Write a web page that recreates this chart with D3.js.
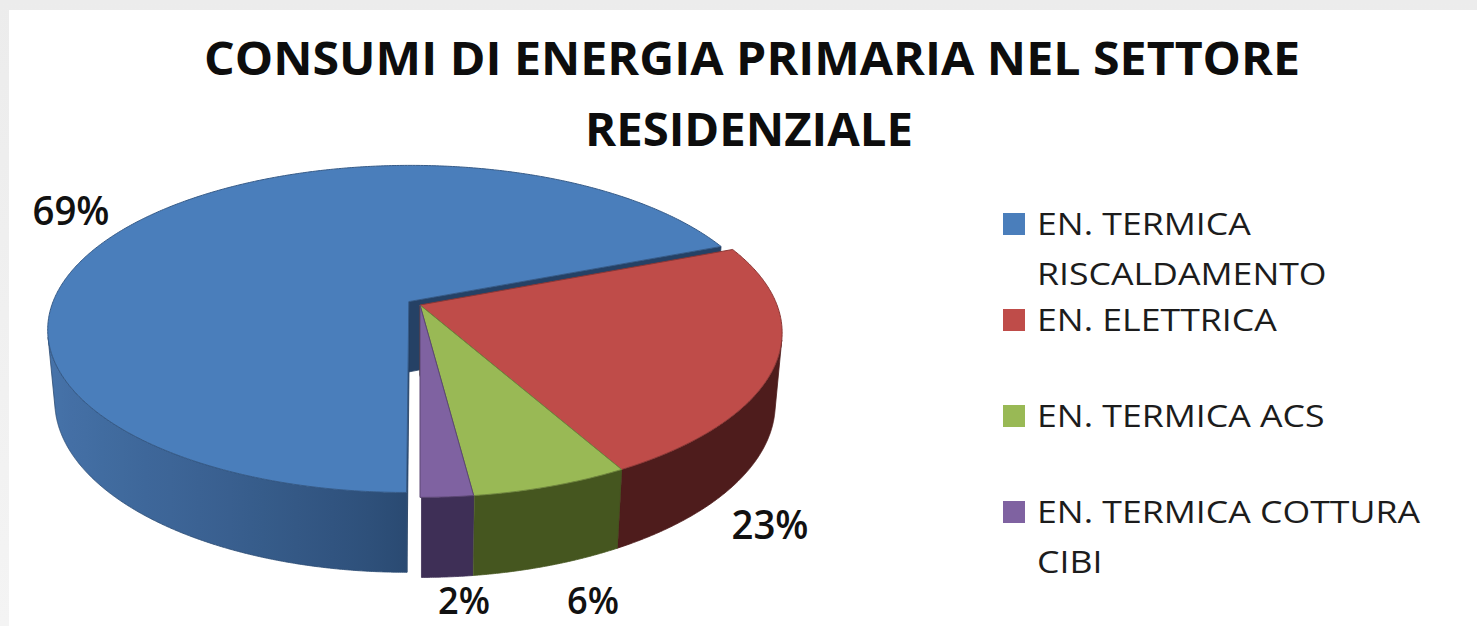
<!DOCTYPE html>
<html>
<head>
<meta charset="utf-8">
<script src="https://cdn.jsdelivr.net/npm/d3@7"></script>
<style>
html, body { margin: 0; padding: 0; background: #efefef; }
svg { display: block; }
</style>
</head>
<body>
<svg id="chart" width="1477" height="626"></svg>
<script>
// data
const categories = ["EN. TERMICA RISCALDAMENTO", "EN. ELETTRICA", "EN. TERMICA ACS", "EN. TERMICA COTTURA CIBI"];
const legendLines = [["EN. TERMICA", "RISCALDAMENTO"], ["EN. ELETTRICA"], ["EN. TERMICA ACS"], ["EN. TERMICA COTTURA", "CIBI"]];
const values = [69, 23, 6, 2];
const percentLabels = ["69%", "23%", "6%", "2%"];
const titleLines = ["CONSUMI DI ENERGIA PRIMARIA NEL SETTORE", "RESIDENZIALE"];

const topColors = ["#4a7ebb", "#bf4c49", "#99b955", "#7f62a1"];
const sideDark = ["#2a4a72", "#4e1c1c", "#45561f", "#3e2f56"];
const sideLight = ["#4774ab", "#5a2222", "#4d6024", "#483764"];
const explode = [0.038, 0, 0, 0];

// layout of the labels (center x, baseline)
const labelPos = [[71, 225], [770, 539], [593, 614], [464, 614]];

const svg = d3.select("#chart");
const defs = svg.append("defs");

// page background + card
const bg = defs.append("linearGradient").attr("id", "bg").attr("x1", 0).attr("y1", 0).attr("x2", 0).attr("y2", 1);
bg.append("stop").attr("offset", 0).attr("stop-color", "#ececec");
bg.append("stop").attr("offset", 1).attr("stop-color", "#f4f4f4");
svg.append("rect").attr("width", 1477).attr("height", 626).attr("fill", "url(#bg)");
svg.append("rect").attr("x", 9).attr("y", 10).attr("width", 1468).attr("height", 616).attr("fill", "#fff");

// title
svg.selectAll(".title").data(titleLines).join("text")
    .attr("class", "title")
    .attr("x", (d, i) => i == 0 ? 752 : 749)
    .attr("y", (d, i) => i == 0 ? 75 : 146)
    .attr("text-anchor", "middle")
    .attr("font-family", "'Open Sans', sans-serif")
    .attr("font-weight", 700)
    .attr("font-size", 46)
    .attr("fill", "#0d0d0d")
    .attr("textLength", (d, i) => i == 0 ? 1096 : 328)
    .attr("lengthAdjust", "spacingAndGlyphs")
    .text(d => d);

// 3d projection of the pie
const cx = 420, cy = 305, K = 357, D = 5.33, H = 0.225;
const tilt = Math.asin(0.4485);
const sa = Math.sin(tilt), ca = Math.cos(tilt);
const cam = [0, D * ca, D * sa];

function proj(u, v, w) {
    const Z = D - v * ca - w * sa;
    const Y = v * sa - w * ca;
    return [cx + K * D * u / Z, cy + K * D * Y / Z];
}
function depth(u, v, w) { return D - v * ca - w * sa; }

const arcs = d3.pie().sort(null).startAngle(Math.PI).endAngle(3 * Math.PI)(values);
const line = d3.line();

const slices = arcs.map(function (a, i) {
    const mid = (a.startAngle + a.endAngle) / 2;
    return {
        i: i, a0: a.startAngle, a1: a.endAngle,
        ou: explode[i] * Math.sin(mid), ov: -explode[i] * Math.cos(mid)
    };
});

function rim(s, a, w) { return proj(s.ou + Math.sin(a), s.ov - Math.cos(a), w); }
function apex(s, w) { return proj(s.ou, s.ov, w); }

const walls = [];
const step = Math.PI / 720;

slices.forEach(function (s) {
    // outer wall, only where it faces the camera
    const vis = [];
    for (let a = s.a0; a <= s.a1 + 1e-9; a += step) {
        const aa = Math.min(a, s.a1);
        const px = s.ou + Math.sin(aa), py = s.ov - Math.cos(aa);
        const dot = Math.sin(aa) * (cam[0] - px) - Math.cos(aa) * (cam[1] - py);
        if (dot > 0) vis.push(aa);
    }
    if (vis.length > 1) {
        const topPts = vis.map(a => rim(s, a, 0));
        const botPts = vis.map(a => rim(s, a, -H)).reverse();
        const xs = topPts.map(p => p[0]);
        const gid = "side" + s.i;
        const x0 = d3.min(xs), x1 = d3.max(xs);
        const g = defs.append("linearGradient").attr("id", gid)
            .attr("gradientUnits", "userSpaceOnUse")
            .attr("x1", x0).attr("y1", 0).attr("x2", x1).attr("y2", 0);
        const shade = d3.interpolateRgb(sideDark[s.i], sideLight[s.i]);
        const stops = vis.filter((a, k) => k % 20 == 0 || k == vis.length - 1)
            .map(a => ({ off: (rim(s, a, 0)[0] - x0) / Math.max(1, x1 - x0), t: Math.max(0, -Math.sin(a)) }))
            .sort((p, q) => p.off - q.off);
        g.selectAll("stop").data(stops).join("stop")
            .attr("offset", d => d.off)
            .attr("stop-color", d => shade(Math.pow(d.t, 0.8)));
        const am = vis[Math.floor(vis.length / 2)];
        walls.push({
            pts: topPts.concat(botPts), fill: "url(#" + gid + ")", stroke: sideDark[s.i],
            z: depth(s.ou + Math.sin(am), s.ov - Math.cos(am), -H / 2)
        });
    }
    // radial walls
    [[s.a0, -1], [s.a1, 1]].forEach(function (e) {
        const phi = e[0], sg = e[1];
        const nx = sg * Math.cos(phi), ny = sg * Math.sin(phi);
        const mx = s.ou + Math.sin(phi) / 2, my = s.ov - Math.cos(phi) / 2;
        const dot = nx * (cam[0] - mx) + ny * (cam[1] - my);
        if (dot <= 0.02) return;
        walls.push({
            pts: [apex(s, 0), rim(s, phi, 0), rim(s, phi, -H), apex(s, -H)],
            fill: d3.color(sideDark[s.i]).darker(0.35).formatHex(),
            stroke: d3.color(sideDark[s.i]).darker(0.5).formatHex(),
            z: depth(mx, my, -H / 2)
        });
    });
});

walls.sort((p, q) => q.z - p.z);

const pie = svg.append("g");
pie.selectAll(".wall").data(walls).join("path")
    .attr("class", "wall")
    .attr("d", d => line(d.pts) + "Z")
    .attr("fill", d => d.fill)
    .attr("stroke", d => d.stroke)
    .attr("stroke-width", 0.8)
    .attr("stroke-linejoin", "round");

pie.selectAll(".top").data(slices).join("path")
    .attr("class", "top")
    .attr("d", function (s) {
        const n = Math.max(2, Math.ceil((s.a1 - s.a0) / (Math.PI / 360)));
        const pts = [apex(s, 0)].concat(d3.range(n + 1).map(k => rim(s, s.a0 + (s.a1 - s.a0) * k / n, 0)));
        return line(pts) + "Z";
    })
    .attr("fill", s => topColors[s.i])
    .attr("stroke", s => d3.color(topColors[s.i]).darker(0.9).formatHex())
    .attr("stroke-width", 1)
    .attr("stroke-linejoin", "round");

// data labels
svg.selectAll(".lbl").data(percentLabels).join("text")
    .attr("class", "lbl")
    .attr("x", (d, i) => labelPos[i][0])
    .attr("y", (d, i) => labelPos[i][1])
    .attr("text-anchor", "middle")
    .attr("font-family", "'Open Sans', sans-serif")
    .attr("font-weight", 600)
    .attr("font-size", (d, i) => i < 2 ? 40 : 37)
    .attr("fill", "#111")
    .attr("textLength", d => d.length == 3 ? 77 : 52)
    .attr("lengthAdjust", "spacingAndGlyphs")
    .text(d => d);

// legend
const legend = svg.append("g").attr("transform", "translate(1003,235)");
const items = legend.selectAll(".item").data(categories).join("g")
    .attr("class", "item")
    .attr("transform", (d, i) => `translate(0,${i * 96})`);
items.append("rect")
    .attr("x", 0).attr("y", -22).attr("width", 22).attr("height", 22)
    .attr("fill", (d, i) => topColors[i]);
const ltext = items.selectAll("text").data((d, i) => legendLines[i]).join("text")
    .attr("x", 34)
    .attr("y", (d, k) => k * 50)
    .attr("font-family", "'Open Sans', sans-serif")
    .attr("font-size", 31)
    .attr("fill", "#1c1c1c")
    .text(d => d);
// stretch to the width of the widest line in the picture
let ref = 1;
ltext.each(function (d) { if (d == "EN. TERMICA COTTURA") ref = this.getComputedTextLength(); });
const sx = 383 / ref;
ltext.each(function () {
    d3.select(this).attr("textLength", this.getComputedTextLength() * sx).attr("lengthAdjust", "spacingAndGlyphs");
});
</script>
</body>
</html>
